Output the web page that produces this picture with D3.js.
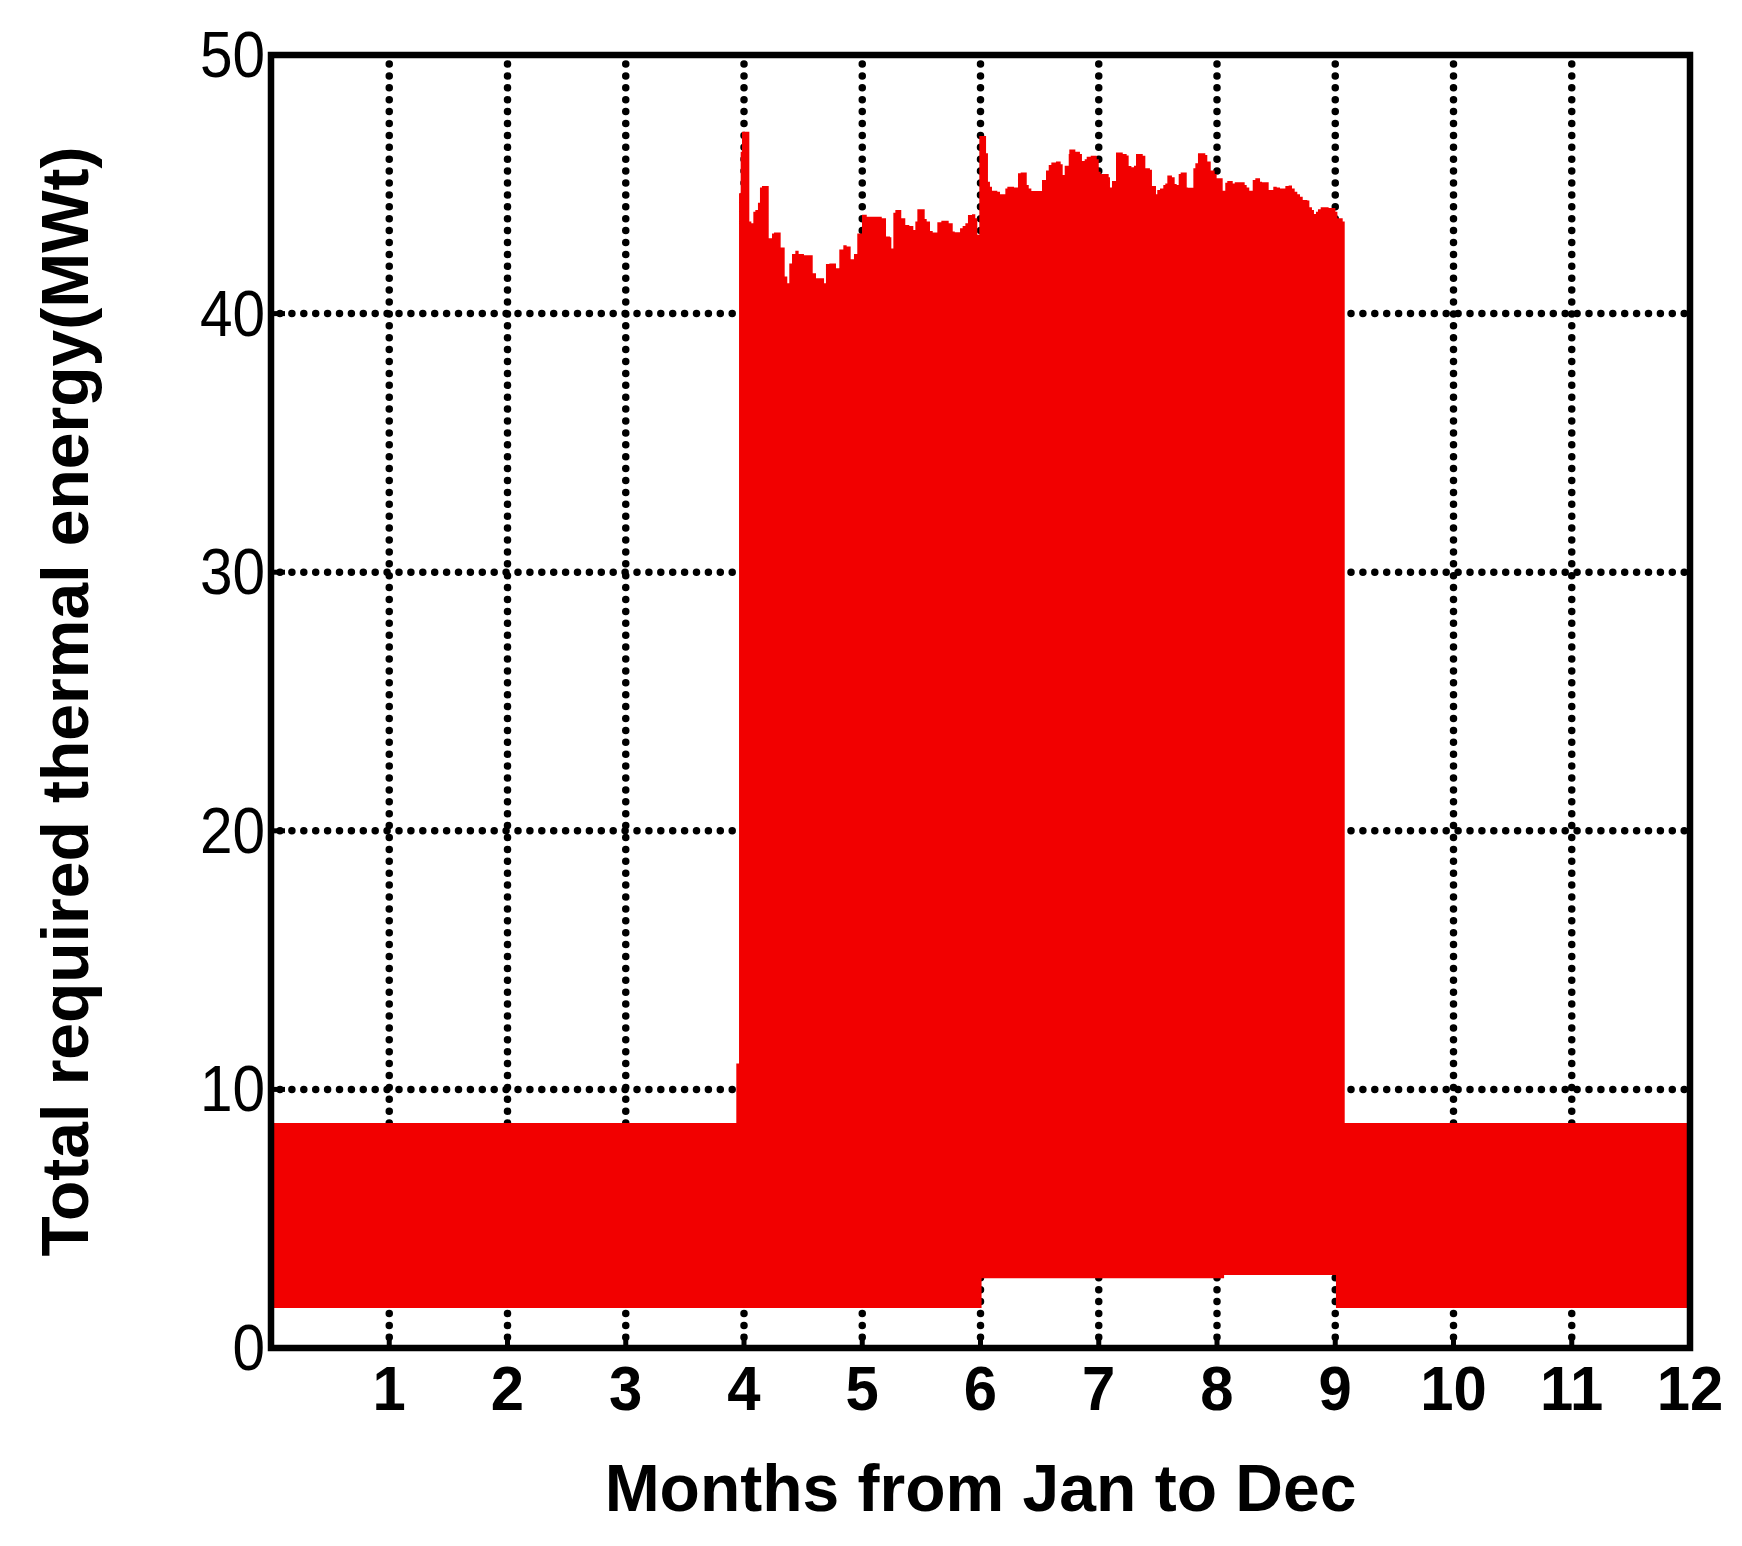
<!DOCTYPE html>
<html lang="en">
<head>
<meta charset="utf-8" />
<style>
  body { margin: 0; background: #fff; }
  text { font-family: "Liberation Sans", Arial, sans-serif; fill: #000; }
</style>
</head>
<body>
<svg width="1742" height="1546"></svg>
<script src="https://d3js.org/d3.v7.min.js"></script>
<script>
// x ticks (months) and y ticks (MWt)
var monthTicks = [1, 2, 3, 4, 5, 6, 7, 8, 9, 10, 11, 12],
    valueTicks = [0, 10, 20, 30, 40, 50];

// upper envelope of the hourly load (daily peaks)
var upperMonths = [0, 3.935, 3.958, 3.972, 3.983, 4.045, 4.062, 4.079, 4.096, 4.118, 4.135, 4.152,
  4.209, 4.237, 4.254, 4.31, 4.344, 4.366, 4.383, 4.406, 4.434, 4.462, 4.507, 4.581, 4.609,
  4.677, 4.693, 4.722, 4.778, 4.806, 4.84, 4.868, 4.902, 4.93, 4.958, 4.998, 5.038, 5.122,
  5.165, 5.201, 5.235, 5.246, 5.263, 5.28, 5.33, 5.364, 5.398, 5.432, 5.449, 5.466, 5.528,
  5.545, 5.573, 5.596, 5.635, 5.669, 5.731, 5.765, 5.782, 5.827, 5.849, 5.872, 5.894, 5.928,
  5.956, 5.973, 5.99, 6.047, 6.063, 6.08, 6.097, 6.142, 6.165, 6.21, 6.227, 6.283, 6.317,
  6.34, 6.391, 6.408, 6.43, 6.486, 6.52, 6.554, 6.577, 6.599, 6.638, 6.678, 6.695, 6.712,
  6.746, 6.751, 6.802, 6.841, 6.858, 6.881, 6.898, 6.932, 6.983, 7.0, 7.016, 7.084, 7.095,
  7.112, 7.146, 7.203, 7.236, 7.253, 7.276, 7.298, 7.315, 7.372, 7.394, 7.433, 7.45, 7.484,
  7.495, 7.518, 7.546, 7.563, 7.58, 7.619, 7.642, 7.659, 7.676, 7.693, 7.744, 7.755, 7.8,
  7.817, 7.839, 7.901, 7.918, 7.947, 7.98, 7.997, 8.048, 8.07, 8.087, 8.133, 8.15, 8.234,
  8.251, 8.273, 8.302, 8.324, 8.364, 8.381, 8.437, 8.476, 8.505, 8.533, 8.578, 8.606, 8.634,
  8.657, 8.679, 8.702, 8.725, 8.764, 8.781, 8.803, 8.82, 8.837, 8.854, 8.877, 8.91, 8.944,
  8.984, 9.001, 9.018, 9.063, 9.08];
var upperValues = [8.7, 11.0, 44.65, 46.26, 47.03, 43.56, 43.49, 43.94, 44.01, 44.29, 44.88, 44.93,
  42.91, 43.1, 43.14, 42.56, 41.43, 41.17, 41.94, 42.3, 42.43, 42.3, 42.26, 41.56, 41.37,
  41.17, 41.92, 41.94, 41.75, 42.48, 42.64, 42.59, 42.1, 42.3, 43.1, 43.82, 43.75, 43.75,
  43.69, 42.98, 42.95, 42.52, 43.9, 44.01, 43.69, 43.43, 43.39, 43.23, 43.56, 44.04, 43.66,
  43.56, 43.19, 43.14, 43.53, 43.59, 43.49, 43.17, 43.15, 43.3, 43.39, 43.49, 43.81, 43.84,
  43.69, 43.05, 46.87, 46.2, 45.1, 44.91, 44.75, 44.71, 44.62, 44.84, 44.91, 44.88, 45.43,
  45.46, 44.97, 44.84, 44.74, 44.74, 45.17, 45.53, 45.75, 45.84, 45.88, 45.78, 45.36, 45.72,
  46.17, 46.35, 46.26, 46.17, 45.9, 45.97, 46.07, 46.1, 45.97, 45.49, 45.4, 45.27, 44.88,
  45.13, 46.23, 46.17, 46.11, 45.71, 45.66, 45.72, 46.17, 46.1, 45.62, 45.56, 44.93, 44.62,
  44.78, 44.84, 44.97, 45.03, 45.34, 45.27, 45.01, 44.97, 45.4, 45.46, 44.88, 44.87, 45.62,
  45.81, 46.2, 46.13, 45.88, 45.53, 45.4, 45.23, 44.75, 45.06, 45.13, 45.03, 45.08, 44.97,
  44.88, 44.75, 45.17, 45.23, 45.1, 45.08, 44.78, 44.91, 44.88, 44.84, 44.93, 44.95, 44.84,
  44.71, 44.62, 44.52, 44.39, 44.37, 44.11, 44.01, 43.85, 43.94, 44.04, 44.11, 44.11, 44.08,
  44.08, 43.94, 43.69, 43.56, 8.7];

// lower envelope (night-time minimum)
var lowerMonths = [0, 6.009, 8.06, 9.006],
    lowerValues = [1.55, 2.7, 2.82, 1.55];

var svg = d3.select("svg"),
    width = 1742,
    height = 1546,
    margin = { top: 55, right: 52, bottom: 198, left: 271 },
    plotW = width - margin.left - margin.right,
    plotH = height - margin.top - margin.bottom;

var x = d3.scaleLinear().domain([0, 12]).range([margin.left, margin.left + plotW]),
    y = d3.scaleLinear().domain([0, 50]).range([margin.top + plotH, margin.top]);

function stepAt(months, values, m) {
  var i = d3.bisectRight(months, m) - 1;
  return values[Math.max(0, i)];
}

var allMonths = Array.from(new Set(upperMonths.concat(lowerMonths, [12]))).sort(d3.ascending);
var band = allMonths.map(function(m) {
  return { m: m, lo: stepAt(lowerMonths, lowerValues, m), hi: stepAt(upperMonths, upperValues, m) };
});

// dotted grid
var grid = svg.append("g")
  .attr("stroke", "#000")
  .attr("stroke-width", 7.5)
  .attr("stroke-linecap", "round")
  .attr("stroke-dasharray", "0 11.9");

grid.selectAll(".gx")
  .data(monthTicks.slice(0, -1))
  .enter().append("line")
  .attr("x1", function(d) { return x(d); })
  .attr("x2", function(d) { return x(d); })
  .attr("y1", y(50) + 9)
  .attr("y2", y(0));

grid.selectAll(".gy")
  .data(valueTicks.slice(1, -1))
  .enter().append("line")
  .attr("y1", function(d) { return y(d); })
  .attr("y2", function(d) { return y(d); })
  .attr("x1", x(0) + 9)
  .attr("x2", x(12));

// red band
var area = d3.area()
  .curve(d3.curveStepAfter)
  .x(function(d) { return x(d.m); })
  .y0(function(d) { return y(d.lo); })
  .y1(function(d) { return y(d.hi); });

svg.append("path")
  .datum(band)
  .attr("fill", "#f20000")
  .attr("d", area);

// ticks
var ticks = svg.append("g").attr("stroke", "#000").attr("stroke-width", 5);
ticks.selectAll(".tx")
  .data(monthTicks.slice(0, -1))
  .enter().append("line")
  .attr("x1", function(d) { return x(d); })
  .attr("x2", function(d) { return x(d); })
  .attr("y1", y(0))
  .attr("y2", y(0) - 14);
ticks.selectAll(".ty")
  .data(valueTicks.slice(1, -1))
  .enter().append("line")
  .attr("y1", function(d) { return y(d); })
  .attr("y2", function(d) { return y(d); })
  .attr("x1", x(0))
  .attr("x2", x(0) + 14);

// frame
svg.append("rect")
  .attr("x", x(0))
  .attr("y", y(50))
  .attr("width", plotW)
  .attr("height", plotH)
  .attr("fill", "none")
  .attr("stroke", "#000")
  .attr("stroke-width", 6.5);

// tick labels (slightly condensed, like the original export)
svg.selectAll(".lx")
  .data(monthTicks)
  .enter().append("text")
  .attr("transform", function(d) { return "translate(" + x(d) + "," + (y(0) + 62) + ") scale(0.95,1)"; })
  .attr("text-anchor", "middle")
  .style("font-size", "63px")
  .style("font-weight", "bold")
  .text(function(d) { return d; });

svg.selectAll(".ly")
  .data(valueTicks)
  .enter().append("text")
  .attr("transform", function(d) { return "translate(" + (x(0) - 6) + "," + (y(d) + 22) + ") scale(0.9,1)"; })
  .attr("text-anchor", "end")
  .style("font-size", "65px")
  .text(function(d) { return d; });

// axis titles
svg.append("text")
  .attr("x", (x(0) + x(12)) / 2)
  .attr("y", 1511)
  .attr("text-anchor", "middle")
  .style("font-size", "66px")
  .style("font-weight", "bold")
  .text("Months from Jan to Dec");

svg.append("text")
  .attr("transform", "translate(88," + (y(0) + y(50)) / 2 + ") rotate(-90)")
  .attr("text-anchor", "middle")
  .style("font-size", "66px")
  .style("font-weight", "bold")
  .text("Total required thermal energy(MWt)");
</script>
</body>
</html>
